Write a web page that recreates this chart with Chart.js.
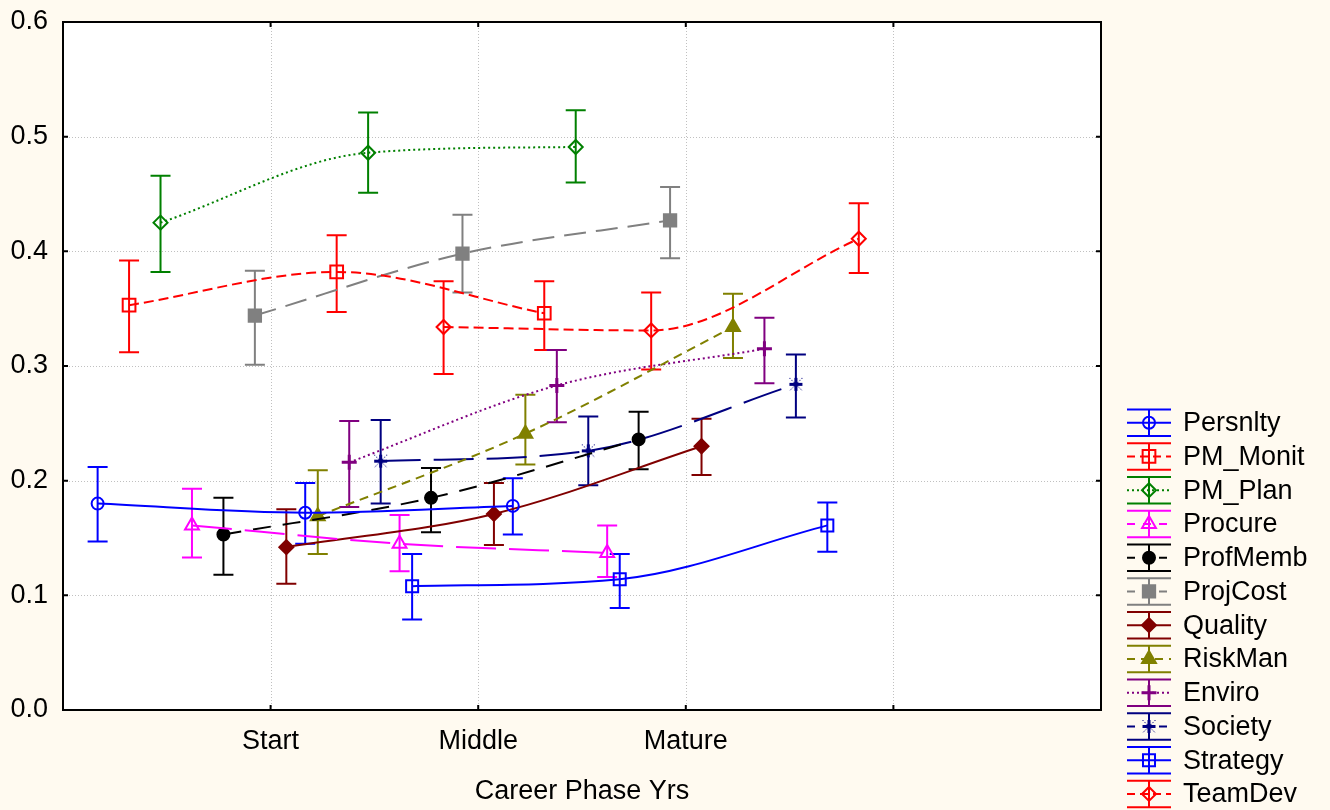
<!DOCTYPE html>
<html>
<head>
<meta charset="utf-8">
<title>Career Phase Yrs</title>
<script src="https://cdn.jsdelivr.net/npm/chart.js@4"></script>
<style>
  html, body { margin: 0; padding: 0; background: #fffaf0; }
  #wrap { width: 1330px; height: 810px; }
</style>
</head>
<body>
<div id="wrap"><canvas id="c" width="1330" height="810"></canvas></div>
<script>
// x axis: categories sit on ticks 1..3, tick 4 has no label
const categories = ['Start', 'Middle', 'Mature'];
const xTickLabels = ['', 'Start', 'Middle', 'Mature', '', ''];

const seriesNames = ['Persnlty', 'PM_Monit', 'PM_Plan', 'Procure', 'ProfMemb', 'ProjCost',
                     'Quality', 'RiskMan', 'Enviro', 'Society', 'Strategy', 'TeamDev'];

// means per series, [Start, Middle, Mature]
const means = [
  [0.180, 0.172, 0.178], // Persnlty
  [0.353, 0.382, 0.346], // PM_Monit
  [0.425, 0.486, 0.491], // PM_Plan
  [0.161, 0.145, 0.137], // Procure
  [0.153, 0.185, 0.236], // ProfMemb
  [0.344, 0.398, 0.427], // ProjCost
  [0.142, 0.171, 0.230], // Quality
  [0.169, 0.241, 0.334], // RiskMan
  [0.216, 0.283, 0.315], // Enviro
  [0.217, 0.226, 0.284], // Society
  [0.108, 0.114, 0.161], // Strategy
  [0.334, 0.331, 0.411]  // TeamDev
];
// lower end of the error bars
const lower = [
  [0.147, 0.145, 0.153],
  [0.312, 0.347, 0.314],
  [0.382, 0.451, 0.460],
  [0.133, 0.121, 0.116],
  [0.118, 0.155, 0.210],
  [0.301, 0.364, 0.394],
  [0.110, 0.144, 0.205],
  [0.136, 0.214, 0.307],
  [0.177, 0.251, 0.285],
  [0.180, 0.196, 0.255],
  [0.079, 0.089, 0.138],
  [0.293, 0.297, 0.381]
];
// upper end of the error bars
const upper = [
  [0.212, 0.198, 0.202],
  [0.392, 0.414, 0.374],
  [0.466, 0.521, 0.523],
  [0.193, 0.170, 0.161],
  [0.185, 0.211, 0.260],
  [0.383, 0.432, 0.456],
  [0.175, 0.198, 0.254],
  [0.209, 0.275, 0.363],
  [0.252, 0.314, 0.342],
  [0.253, 0.256, 0.310],
  [0.136, 0.136, 0.181],
  [0.374, 0.364, 0.442]
];

const FONT = "'Liberation Sans', Arial, sans-serif";
const FS = 27;

// Society marker: thick plus with faint dotted diagonals
function societyMarker(color) {
  const c = document.createElement('canvas');
  c.width = 17; c.height = 17;
  const g = c.getContext('2d');
  g.strokeStyle = color;
  g.lineWidth = 1;
  g.setLineDash([1.5, 1.5]);
  g.beginPath();
  g.moveTo(2, 2); g.lineTo(15, 15); g.moveTo(15, 2); g.lineTo(2, 15);
  g.stroke();
  g.setLineDash([]);
  g.lineWidth = 3;
  g.beginPath();
  g.moveTo(2, 8.5); g.lineTo(15, 8.5); g.moveTo(8.5, 2); g.lineTo(8.5, 15);
  g.stroke();
  return c;
}

// look of each series (same order as seriesNames)
const styles = [
  { color: '#0000ff', dash: [],       point: 'circle',   r: 6,   fill: false },
  { color: '#ff0000', dash: [10, 5],  point: 'rect',     r: 9,   fill: false },
  { color: '#008000', dash: [2, 3],   point: 'rectRot',  r: 7,   fill: false },
  { color: '#ff00ff', dash: [40, 13], point: 'triangle', r: 8,   fill: false },
  { color: '#000000', dash: [18, 12], point: 'circle',   r: 6,   fill: true },
  { color: '#808080', dash: [22, 10], point: 'rect',     r: 8.7, fill: true },
  { color: '#800000', dash: [],       point: 'rectRot',  r: 7,   fill: true },
  { color: '#808000', dash: [9, 6],   point: 'triangle', r: 8,   fill: true },
  { color: '#800080', dash: [2, 3],   point: 'cross',    r: 7.5, fill: false, pw: 3 },
  { color: '#000080', dash: [40, 13], point: societyMarker('#000080'), r: 8, fill: false },
  { color: '#0000ff', dash: [],       point: 'rect',     r: 8.5, fill: false },
  { color: '#ff0000', dash: [10, 5],  point: 'rectRot',  r: 7,   fill: false }
];

// each series is nudged sideways around its category
const DODGE = 0.1515;
const datasets = seriesNames.map((name, i) => {
  const st = styles[i];
  const fillCol = st.fill ? st.color : 'rgba(0,0,0,0)';
  return {
    label: name,
    data: means[i].map((v, k) => ({ x: k + 1 + (i - 5.5) * DODGE, y: v })),
    lo: lower[i],
    hi: upper[i],
    borderColor: st.color,
    backgroundColor: fillCol,
    borderWidth: 2,
    borderDash: st.dash,
    cubicInterpolationMode: 'monotone',
    fill: false,
    pointStyle: st.point,
    pointRadius: st.r,
    pointHoverRadius: st.r,
    pointBorderWidth: st.pw || 2,
    pointBorderColor: st.color,
    pointBackgroundColor: fillCol
  };
});

const plotDecor = {
  id: 'plotDecor',
  beforeDraw(chart) {
    const { ctx, chartArea: a } = chart;
    ctx.save();
    ctx.fillStyle = '#ffffff';
    ctx.fillRect(a.left, a.top, a.right - a.left, a.bottom - a.top);
    ctx.restore();
  },
  beforeDatasetsDraw(chart) {
    const { ctx, chartArea: a, scales } = chart;
    const xs = scales.x, ys = scales.y;
    ctx.save();
    // dotted grid
    ctx.strokeStyle = '#c0c0c0';
    ctx.lineWidth = 1;
    ctx.setLineDash([1, 2]);
    ys.ticks.forEach(t => {
      if (t.value <= 0 || t.value >= 0.6) return;
      const y = Math.round(ys.getPixelForValue(t.value)) + 0.5;
      ctx.beginPath(); ctx.moveTo(a.left, y); ctx.lineTo(a.right, y); ctx.stroke();
    });
    xs.ticks.forEach(t => {
      if (t.value <= 0 || t.value >= 5) return;
      const x = Math.round(xs.getPixelForValue(t.value)) + 0.5;
      ctx.beginPath(); ctx.moveTo(x, a.top); ctx.lineTo(x, a.bottom); ctx.stroke();
    });
    ctx.setLineDash([]);
    // error bars
    ctx.lineWidth = 2;
    chart.data.datasets.forEach(ds => {
      ctx.strokeStyle = ds.borderColor;
      ds.data.forEach((p, k) => {
        const x = xs.getPixelForValue(p.x);
        const yl = ys.getPixelForValue(ds.lo[k]);
        const yh = ys.getPixelForValue(ds.hi[k]);
        ctx.beginPath();
        ctx.moveTo(x, yh); ctx.lineTo(x, yl);
        ctx.moveTo(x - 10, yh); ctx.lineTo(x + 10, yh);
        ctx.moveTo(x - 10, yl); ctx.lineTo(x + 10, yl);
        ctx.stroke();
      });
    });
    ctx.restore();
  },
  afterDatasetsDraw(chart) {
    const { ctx, chartArea: a, scales } = chart;
    const xs = scales.x, ys = scales.y;
    ctx.save();
    // frame + inward ticks
    ctx.strokeStyle = '#000';
    ctx.lineWidth = 2;
    ctx.strokeRect(a.left, a.top, a.right - a.left, a.bottom - a.top);
    ctx.beginPath();
    ys.ticks.forEach(t => {
      const y = ys.getPixelForValue(t.value);
      ctx.moveTo(a.left, y); ctx.lineTo(a.left + 5, y);
      ctx.moveTo(a.right, y); ctx.lineTo(a.right - 5, y);
    });
    xs.ticks.forEach(t => {
      const x = xs.getPixelForValue(t.value);
      ctx.moveTo(x, a.bottom); ctx.lineTo(x, a.bottom - 5);
      ctx.moveTo(x, a.top); ctx.lineTo(x, a.top + 5);
    });
    ctx.stroke();

    // legend with error-bar glyphs
    const drawPoint = Chart.helpers && Chart.helpers.drawPoint;
    const lx0 = 1127, lx1 = 1171, lxc = 1149, tx = 1183;
    ctx.font = FS + 'px ' + FONT;
    ctx.textBaseline = 'middle';
    ctx.textAlign = 'left';
    chart.data.datasets.forEach((ds, i) => {
      const y = 422.7 + i * 33.75;
      ctx.strokeStyle = ds.borderColor;
      ctx.lineWidth = 2;
      ctx.setLineDash([]);
      ctx.beginPath();
      ctx.moveTo(lx0, y - 13.3); ctx.lineTo(lx1, y - 13.3);
      ctx.moveTo(lx0, y + 13.3); ctx.lineTo(lx1, y + 13.3);
      ctx.moveTo(lxc, y - 13.3); ctx.lineTo(lxc, y + 13.3);
      ctx.stroke();
      ctx.setLineDash(ds.borderDash.length ? ds.borderDash.map(d => Math.min(d, 8)) : []);
      ctx.beginPath();
      ctx.moveTo(lx0, y); ctx.lineTo(lx1, y);
      ctx.stroke();
      ctx.setLineDash([]);
      if (drawPoint) {
        ctx.fillStyle = ds.pointBackgroundColor;
        ctx.lineWidth = ds.pointBorderWidth;
        drawPoint(ctx, { pointStyle: ds.pointStyle, radius: ds.pointRadius, rotation: 0, borderWidth: ds.pointBorderWidth }, lxc, y);
      }
      ctx.fillStyle = '#000';
      ctx.fillText(ds.label, tx, y + 1);
    });
    ctx.restore();
  }
};

Chart.defaults.font.family = FONT;
Chart.defaults.color = '#000';

new Chart(document.getElementById('c').getContext('2d'), {
  type: 'line',
  data: { datasets },
  options: {
    responsive: false,
    animation: false,
    layout: { padding: { top: 22, right: 229, left: 0, bottom: 0 } },
    plugins: { legend: { display: false }, tooltip: { enabled: false } },
    scales: {
      x: {
        type: 'linear',
        min: 0, max: 5,
        grid: { display: false, drawTicks: false },
        border: { display: false },
        ticks: {
          stepSize: 1, autoSkip: false, maxRotation: 0, padding: 15,
          font: { size: FS }, color: '#000',
          callback: v => xTickLabels[v] ?? ''
        },
        title: {
          display: true, text: 'Career Phase Yrs',
          font: { size: FS }, color: '#000', padding: { top: 0, bottom: 2 }
        },
        afterFit(s) { s.height = 100; }
      },
      y: {
        min: 0, max: 0.6,
        grid: { display: false, drawTicks: false },
        border: { display: false },
        ticks: {
          stepSize: 0.1, padding: 15,
          font: { size: FS }, color: '#000',
          callback: v => Number(v).toFixed(1)
        },
        // tick padding would otherwise push the plot top down
        afterFit(s) { s.width = 63; s.paddingTop = 16; s.paddingBottom = 16; }
      }
    }
  },
  plugins: [plotDecor]
});
</script>
</body>
</html>
